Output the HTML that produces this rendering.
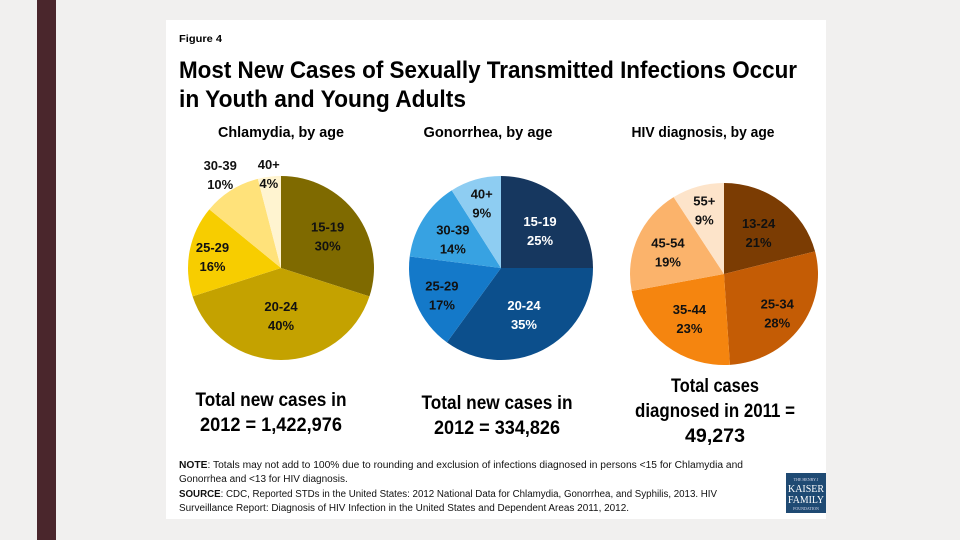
<!DOCTYPE html>
<html><head><meta charset="utf-8"><style>
html,body{margin:0;padding:0;background:#f1f0ef;width:960px;height:540px;overflow:hidden}
svg{display:block;font-family:"Liberation Sans",sans-serif}
</style></head><body>
<svg id="chart" width="960" height="540" viewBox="0 0 960 540" xmlns="http://www.w3.org/2000/svg">
<rect x="0" y="0" width="960" height="540" fill="#f1f0ef"/>
<rect x="37" y="0" width="19" height="540" fill="#4a262c"/>
<rect x="166" y="20" width="660" height="499" fill="#ffffff"/>
<text x="179" y="42" font-size="10.5" font-weight="bold" textLength="43" lengthAdjust="spacingAndGlyphs">Figure 4</text>
<text x="179" y="78" font-size="24" font-weight="bold" textLength="618" lengthAdjust="spacingAndGlyphs">Most New Cases of Sexually Transmitted Infections Occur</text>
<text x="179" y="107" font-size="24" font-weight="bold" textLength="287" lengthAdjust="spacingAndGlyphs">in Youth and Young Adults</text>
<g id="pies"></g>
<text x="271" y="406" font-size="19" font-weight="bold" text-anchor="middle" textLength="151" lengthAdjust="spacingAndGlyphs">Total new cases in</text>
<text x="271" y="431" font-size="19" font-weight="bold" text-anchor="middle" textLength="142" lengthAdjust="spacingAndGlyphs">2012 = 1,422,976</text>
<text x="497" y="409" font-size="19" font-weight="bold" text-anchor="middle" textLength="151" lengthAdjust="spacingAndGlyphs">Total new cases in</text>
<text x="497" y="434" font-size="19" font-weight="bold" text-anchor="middle" textLength="126" lengthAdjust="spacingAndGlyphs">2012 = 334,826</text>
<text x="715" y="392" font-size="19" font-weight="bold" text-anchor="middle" textLength="88" lengthAdjust="spacingAndGlyphs">Total cases</text>
<text x="715" y="417" font-size="19" font-weight="bold" text-anchor="middle" textLength="160" lengthAdjust="spacingAndGlyphs">diagnosed in 2011 =</text>
<text x="715" y="442" font-size="19" font-weight="bold" text-anchor="middle" textLength="60" lengthAdjust="spacingAndGlyphs">49,273</text>
<g font-size="10" fill="#111">
<text x="179" y="468" textLength="564" lengthAdjust="spacingAndGlyphs"><tspan font-weight="bold">NOTE</tspan>: Totals may not add to 100% due to rounding and exclusion of infections diagnosed in persons &lt;15 for Chlamydia and</text>
<text x="179" y="482">Gonorrhea and &lt;13 for HIV diagnosis.</text>
<text x="179" y="497" textLength="538" lengthAdjust="spacingAndGlyphs"><tspan font-weight="bold">SOURCE</tspan>: CDC, Reported STDs in the United States: 2012 National Data for Chlamydia, Gonorrhea, and Syphilis, 2013. HIV</text>
<text x="179" y="511" textLength="450" lengthAdjust="spacingAndGlyphs">Surveillance Report: Diagnosis of HIV Infection in the United States and Dependent Areas 2011, 2012.</text>
</g>
<g>
<rect x="786" y="473" width="40" height="40" fill="#1f4a73"/>
<text x="806" y="481" font-size="4" fill="#dde" text-anchor="middle" font-family="Liberation Serif,serif">THE HENRY J</text>
<text x="806" y="492" font-size="10" fill="#fff" text-anchor="middle" font-family="Liberation Serif,serif" textLength="36" lengthAdjust="spacingAndGlyphs">KAISER</text>
<text x="806" y="503" font-size="10" fill="#fff" text-anchor="middle" font-family="Liberation Serif,serif" textLength="36" lengthAdjust="spacingAndGlyphs">FAMILY</text>
<text x="806" y="510" font-size="4" fill="#dde" text-anchor="middle" font-family="Liberation Serif,serif">FOUNDATION</text>
</g>
</svg>
<script>
const chlamydiaCategories = ["15-19","20-24","25-29","30-39","40+"];
const chlamydiaValues = [30,40,16,10,4];
const gonorrheaCategories = ["15-19","20-24","25-29","30-39","40+"];
const gonorrheaValues = [25,35,17,14,9];
const hivCategories = ["13-24","25-34","35-44","45-54","55+"];
const hivValues = [21,28,23,19,9];

const NS = "http://www.w3.org/2000/svg";
const root = document.getElementById("pies");
const pieSpecs = [
  {key:"chlamydia", title:"Chlamydia, by age", titleX:281, titleW:126, cats:chlamydiaCategories, vals:chlamydiaValues, cx:281, cy:268, rx:93, ry:92,
   colors:["#7f6a00","#c4a200","#f7cd00","#ffe27a","#fff4d0"], text:["#111","#111","#111","#111","#111"], lr:[0.62,0.5,0.75,1.22,1.05]},
  {key:"gonorrhea", title:"Gonorrhea, by age", titleX:488, titleW:129, cats:gonorrheaCategories, vals:gonorrheaValues, cx:501, cy:268, rx:92, ry:92,
   colors:["#16375f","#0c4f8c","#1479c9","#37a2e2","#8ecdf2"], text:["#fff","#fff","#111","#111","#111"], lr:[0.6,0.55,0.7,0.62,0.75]},
  {key:"hiv", title:"HIV diagnosis, by age", titleX:703, titleW:143, cats:hivCategories, vals:hivValues, cx:724, cy:274, rx:94, ry:91,
   colors:["#7b3c03","#c45c05","#f5850f","#fbb36b","#fde4ca"], text:["#111","#111","#111","#111","#111"], lr:[0.6,0.7,0.6,0.65,0.75]}
];
function pt(s, ang, f){ return [s.cx + Math.sin(ang)*s.rx*f, s.cy - Math.cos(ang)*s.ry*f]; }
pieSpecs.forEach(s => {
  const g = document.createElementNS(NS,"g");
  
  
  root.appendChild(g);
  const t = document.createElementNS(NS,"text");
  t.setAttribute("x", s.titleX); t.setAttribute("y", 137);
  t.setAttribute("text-anchor","middle"); t.setAttribute("font-size","15"); t.setAttribute("font-weight","bold");
  t.setAttribute("textLength", s.titleW); t.setAttribute("lengthAdjust","spacingAndGlyphs");
  t.textContent = s.title;
  
  
  g.appendChild(t);
  const total = s.vals.reduce((a,b)=>a+b,0);
  let acc = 0;
  s.vals.forEach((v,i) => {
    const a0 = acc/total*2*Math.PI; acc += v; const a1 = acc/total*2*Math.PI;
    const p0 = pt(s,a0,1), p1 = pt(s,a1,1);
    const large = (a1-a0) > Math.PI ? 1 : 0;
    const path = document.createElementNS(NS,"path");
    path.setAttribute("d", `M${s.cx},${s.cy} L${p0[0]},${p0[1]} A${s.rx},${s.ry} 0 ${large} 1 ${p1[0]},${p1[1]} Z`);
    path.setAttribute("fill", s.colors[i]);
    
    
    g.appendChild(path);
  });
  acc = 0;
  s.vals.forEach((v,i) => {
    const mid = (acc + v/2)/total*2*Math.PI; acc += v;
    const c = pt(s, mid, s.lr[i]);
    [s.cats[i], v + "%"].forEach((str,k) => {
      const lt = document.createElementNS(NS,"text");
      lt.setAttribute("x", c[0]); lt.setAttribute("y", c[1] - 3 + k*19);
      lt.setAttribute("text-anchor","middle"); lt.setAttribute("font-size","13"); lt.setAttribute("font-weight","bold");
      lt.setAttribute("fill", s.text[i]);
      lt.textContent = str;
      
      
      g.appendChild(lt);
    });
  });
});
</script>
</body></html>
